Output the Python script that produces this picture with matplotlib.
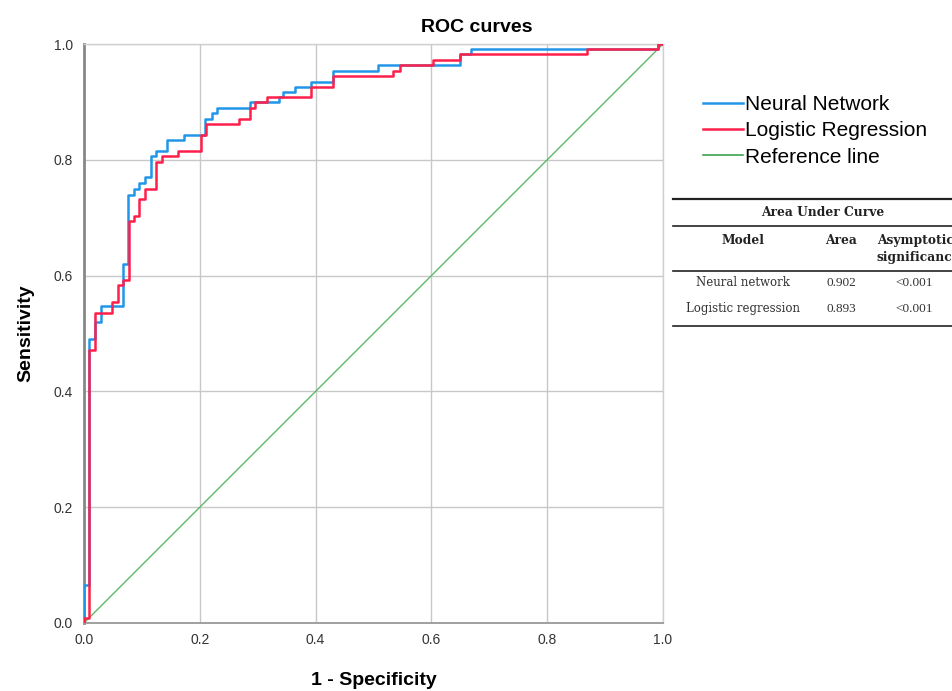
import matplotlib
matplotlib.use("Agg")
import matplotlib.pyplot as plt
from matplotlib.lines import Line2D

# ROC points (fpr, tpr) at each step corner
nn_fpr = [0, 0, 0.009, 0.019, 0.029, 0.068, 0.076, 0.086, 0.095, 0.105, 0.115, 0.124,
          0.144, 0.173, 0.209, 0.221, 0.229, 0.287, 0.336, 0.344, 0.364, 0.392, 0.430,
          0.507, 0.649, 0.668, 0.992, 1.0]
nn_tpr = [0, 0.065, 0.49, 0.52, 0.547, 0.62, 0.74, 0.75, 0.76, 0.77, 0.807, 0.816,
          0.834, 0.842, 0.870, 0.880, 0.889, 0.899, 0.908, 0.917, 0.926, 0.935, 0.953,
          0.963, 0.982, 0.991, 1.0, 1.0]

lr_fpr = [0, 0, 0.009, 0.019, 0.049, 0.058, 0.068, 0.077, 0.086, 0.095, 0.105, 0.125,
          0.135, 0.163, 0.202, 0.211, 0.267, 0.287, 0.295, 0.316, 0.392, 0.430, 0.534,
          0.545, 0.602, 0.649, 0.868, 0.992, 1.0]
lr_tpr = [0, 0.009, 0.472, 0.536, 0.555, 0.584, 0.592, 0.695, 0.703, 0.732, 0.750, 0.797,
          0.807, 0.816, 0.843, 0.861, 0.870, 0.889, 0.899, 0.908, 0.926, 0.945, 0.954,
          0.963, 0.972, 0.982, 0.991, 1.0, 1.0]

ref_x = [0, 1]
ref_y = [0, 1]

labels = ["Neural Network", "Logistic Regression", "Reference line"]
colors = ["#2196e8", "#ff1f4b", "#4cb55a"]

# AUC table
auc_title = "Area Under Curve"
auc_header = ["Model", "Area", "Asymptotic\nsignificance"]
auc_rows = [["Neural network", "0.902", "<0.001"],
            ["Logistic regression", "0.893", "<0.001"]]

plt.rcParams["font.family"] = ["Liberation Sans", "DejaVu Sans"]

W, H = 953, 691
fig = plt.figure(figsize=(W / 100, H / 100), dpi=100)
ax = fig.add_axes([84 / W, 1 - 623 / H, (663 - 84) / W, (623 - 44) / H])

ax.plot(nn_fpr, nn_tpr, drawstyle="steps-post", color=colors[0], lw=1.8, label=labels[0], zorder=3)
ax.plot(lr_fpr, lr_tpr, drawstyle="steps-post", color=colors[1], lw=1.8, label=labels[1], zorder=4)
ax.plot(ref_x, ref_y, color=colors[2], lw=0.9, label=labels[2], zorder=2)

ax.set_xlim(0, 1)
ax.set_ylim(0, 1)
ticks = [0, 0.2, 0.4, 0.6, 0.8, 1.0]
ax.set_xticks(ticks)
ax.set_yticks(ticks)
ax.set_xticklabels(["%.1f" % t for t in ticks])
ax.set_yticklabels(["%.1f" % t for t in ticks])
ax.tick_params(length=0, labelsize=10, labelcolor="#333333")
ax.tick_params(axis="x", pad=7)
ax.tick_params(axis="y", pad=8)
ax.grid(True, color="#c8c8c8", lw=1)
ax.set_axisbelow(True)
for s in ["top", "right"]:
    ax.spines[s].set_color("#d0d0d0")
    ax.spines[s].set_linewidth(1)
ax.spines["left"].set_color("#888888")
ax.spines["left"].set_linewidth(2)
ax.spines["bottom"].set_color("#999999")
ax.spines["bottom"].set_linewidth(1.3)

ax.set_xlabel("1 - Specificity", fontsize=14, fontweight="bold", labelpad=18)
ax.set_ylabel("Sensitivity", fontsize=14, fontweight="bold", labelpad=14)
fig.suptitle("ROC curves", x=0.5, y=1 - 27 / H, va="center", fontsize=14, fontweight="bold")

handles, lbls = ax.get_legend_handles_labels()
leg = fig.legend(handles, lbls, loc="upper left", bbox_to_anchor=(703 / W, 1 - 95 / H),
                 frameon=False, fontsize=15, borderpad=0, borderaxespad=0,
                 handlelength=1.9, handletextpad=0.1, labelspacing=0.35)
leg.get_lines()[2].set_color("#2a9d3c")
leg.get_lines()[2].set_linewidth(1.1)

# table drawn in figure pixel coordinates
def fx(px):
    return px / W

def fy(py):
    return 1 - py / H

for py, lw in [(199, 1.6), (226, 1.2), (271, 1.2), (326, 1.2)]:
    fig.add_artist(Line2D([fx(673), fx(953)], [fy(py), fy(py)], color="#222222", lw=lw))

serif = ["DejaVu Serif"]
num_serif = ["Liberation Serif"]
col_x = [743, 841, 914]
fig.text(fx(823), fy(213), auc_title, ha="center", va="center", fontsize=8.8,
         fontweight="bold", family=serif, color="#222222")
fig.text(fx(col_x[0]), fy(240), auc_header[0], ha="center", va="center", fontsize=8.8,
         fontweight="bold", family=serif, color="#222222")
fig.text(fx(col_x[1]), fy(240), auc_header[1], ha="center", va="center", fontsize=8.8,
         fontweight="bold", family=serif, color="#222222")
fig.text(fx(877), fy(249), auc_header[2], ha="left", va="center", fontsize=8.8,
         fontweight="bold", family=serif, color="#222222", linespacing=1.4)
for r, row in enumerate(auc_rows):
    y = fy(283 + 25.5 * r)
    fig.text(fx(col_x[0]), y, row[0], ha="center", va="center", fontsize=8.5,
             family=serif, color="#333333")
    fig.text(fx(col_x[1]), y, row[1], ha="center", va="center", fontsize=9.5,
             family=num_serif, color="#333333")
    fig.text(fx(col_x[2]), y, row[2], ha="center", va="center", fontsize=9.5,
             family=num_serif, color="#333333")

fig.savefig("out.png", dpi=100)
